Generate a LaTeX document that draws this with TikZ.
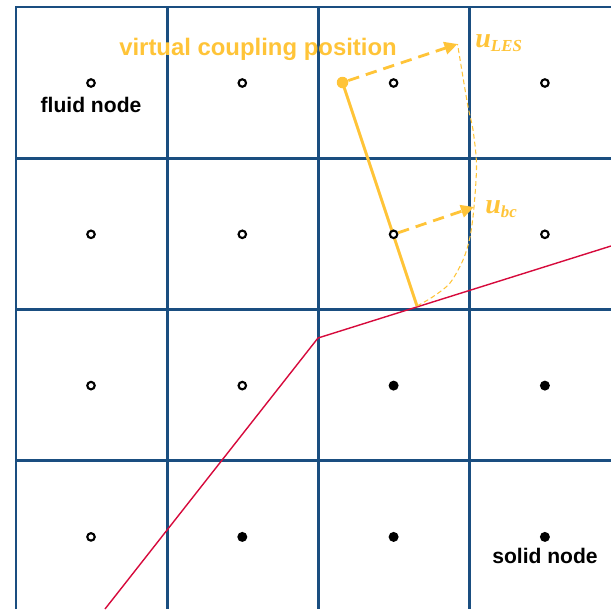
\documentclass[tikz,border=0pt]{standalone}
\usepackage{fontspec}
\setmainfont{Liberation Sans}
\newfontfamily\velfamily{Liberation Serif}
\usetikzlibrary{arrows.meta}
\definecolor{gridblue}{RGB}{26,78,128}
\definecolor{couplegold}{RGB}{255,196,56}
\definecolor{wallred}{RGB}{214,10,60}
\newcommand{\vellabel}[2]{{\velfamily\bfseries\itshape\fontsize{16}{18}\selectfont #1}%
  \raisebox{-2.3pt}{\velfamily\bfseries\itshape\fontsize{9.6}{10}\selectfont #2}}
\tikzset{
  gridline/.style = {gridblue,line width=1.7pt},
  fluidpt/.style  = {circle,draw=black,line width=1.2pt,fill=white,inner sep=0pt,minimum size=0.15cm},
  solidpt/.style  = {circle,fill=black,inner sep=0pt,minimum size=0.2cm},
  vcpdot/.style   = {circle,fill=couplegold,inner sep=0pt,minimum size=0.23cm},
  velarr/.style   = {-{Triangle[length=2.6mm,width=2.5mm]},couplegold,line width=1.6pt,dash pattern=on 6.5pt off 4pt},
  profline/.style = {couplegold,line width=0.6pt,dash pattern=on 2.8pt off 1.7pt},
  wallline/.style = {wallred,line width=0.8pt},
  lbl/.style      = {font=\bfseries\fontsize{12}{14}\selectfont,anchor=base},
  vellbl/.style   = {couplegold,anchor=base west,inner sep=0pt}
}

\begin{document}
\begin{tikzpicture}[x=0.02cm,y=-0.02cm]
  \useasboundingbox (0,0) rectangle (611,609);
  % lattice cells, open to the right and bottom
  \draw[gridline] (16,609) -- (16,7) -- (611,7);
  \foreach \k in {1,2,3} {
    \draw[gridline] (16+\k*151.3,7) -- (16+\k*151.3,609);
    \draw[gridline] (16,7+\k*151.3) -- (611,7+\k*151.3);
  }
  % wall surface
  \coordinate (wallA) at (105,609);
  \coordinate (wallK) at (318,338);
  \coordinate (wallB) at (611,246);
  \draw[wallline] (wallA) -- (wallK) -- (wallB);
  % wall normal through the coupling point
  \node[vcpdot] (vcp) at (342.5,82.5) {};
  \coordinate (wallpt) at (417,306);
  \draw[couplegold,line width=1.7pt] (vcp.center) -- (wallpt);
  % lattice nodes
  \foreach \c/\r/\kind in {1/1/fluidpt,2/1/fluidpt,3/1/fluidpt,4/1/fluidpt,
                           1/2/fluidpt,2/2/fluidpt,3/2/fluidpt,4/2/fluidpt,
                           1/3/fluidpt,2/3/fluidpt,3/3/solidpt,4/3/solidpt,
                           1/4/fluidpt,2/4/solidpt,3/4/solidpt,4/4/solidpt}
    \node[\kind] (n\c\r) at ({91+(\c-1)*151.3},{83+(\r-1)*151.3}) {};
  % velocity vectors and profile
  \coordinate (tipLES) at (457.5,44);
  \coordinate (tipbc)  at (474,207);
  \draw[velarr] (vcp) -- (tipLES);
  \draw[velarr] (n32) -- (tipbc);
  \draw[profline] plot[smooth,tension=0.5] coordinates {(wallpt) (433,296.7) (450,283) (463,260)
    (470,237) (tipbc) (476.5,165) (473,130) (467.5,104) (tipLES)};
  \node[lbl] (fluidlbl) at (91,112) {fluid node};
  \node[lbl] (solidlbl) at (545,563) {solid node};
  \node[lbl,couplegold,font=\bfseries\fontsize{13.6}{16}\selectfont] (vcplbl) at (258,55) {virtual coupling position};
  \node[vellbl] (ules) at (475,47.5) {\vellabel{u}{LES}};
  \node[vellbl] (ubc)  at (485,213)  {\vellabel{u}{bc}};
\end{tikzpicture}
\end{document}
